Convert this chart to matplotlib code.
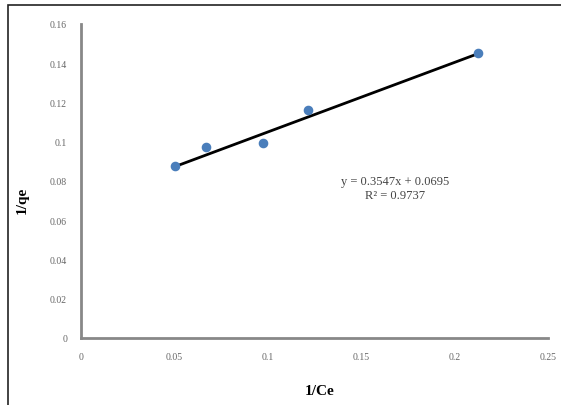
import matplotlib.pyplot as plt
import numpy as np
from matplotlib.patches import Rectangle

# data
inv_ce = [0.0503, 0.0669, 0.0974, 0.1215, 0.2125]
inv_qe = [0.0876, 0.0973, 0.0994, 0.1160, 0.1450]
slope = 0.3547
intercept = 0.0695
eq_text = "y = 0.3547x + 0.0695\nR² = 0.9737"
x_ticks = [0, 0.05, 0.1, 0.15, 0.2, 0.25]
x_tick_labels = ["0", "0.05", "0.1", "0.15", "0.2", "0.25"]
y_ticks = [0, 0.02, 0.04, 0.06, 0.08, 0.1, 0.12, 0.14, 0.16]
y_tick_labels = ["0", "0.02", "0.04", "0.06", "0.08", "0.1", "0.12", "0.14", "0.16"]

fig = plt.figure(figsize=(5.61, 4.06), dpi=100)
ax = fig.add_axes([81 / 561, 1 - 339 / 406, (548 - 81) / 561, (339 - 25) / 406])

# outer frame
fig.patches.append(Rectangle((8 / 561, -0.05), 1.1, 1 - 6 / 406 + 0.05,
                             transform=fig.transFigure, fill=False,
                             edgecolor="#222222", linewidth=1.2))

xs = np.array([min(inv_ce), max(inv_ce)])
ax.plot(xs, slope * xs + intercept, color="black", linewidth=2, zorder=2)
ax.scatter(inv_ce, inv_qe, s=35, color="#4a7ebb", zorder=3)

ax.set_xlim(0, 0.25)
ax.set_ylim(0, 0.16)
ax.set_xticks(x_ticks)
ax.set_xticklabels(x_tick_labels)
ax.set_yticks(y_ticks)
ax.set_yticklabels(y_tick_labels)
ax.tick_params(length=0, labelsize=7, labelcolor="#666666", pad=10)
for lab in ax.get_xticklabels() + ax.get_yticklabels():
    lab.set_family("Liberation Serif")

for s in ["top", "right"]:
    ax.spines[s].set_visible(False)
for s in ["left", "bottom"]:
    ax.spines[s].set_color("#888888")
    ax.spines[s].set_linewidth(2)

ax.text(0.168, 0.0765, eq_text, ha="center", va="center", fontsize=9,
        family="Liberation Serif", color="#444444", linespacing=1.15)

fig.text(320 / 561, 1 - 392 / 406, "1/Ce", ha="center", va="center",
         fontsize=11, fontweight="bold", family="Liberation Serif")
fig.text(22 / 561, 1 - 200 / 406, "1/qe", ha="center", va="center",
         rotation=90, fontsize=11, fontweight="bold", family="Liberation Serif")

fig.savefig("out.png", dpi=100)
